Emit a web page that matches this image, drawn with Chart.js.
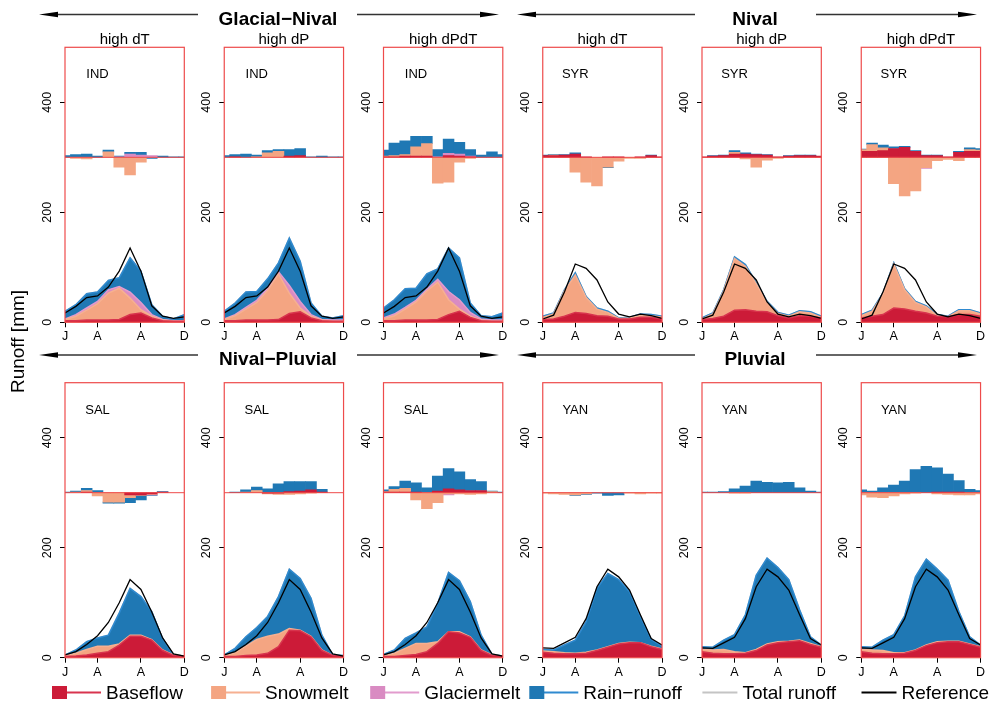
<!DOCTYPE html>
<html lang="en">
<head>
<meta charset="utf-8">
<title>Runoff components by regime</title>
<script src="https://cdn.jsdelivr.net/npm/chart.js@4.4.1/dist/chart.umd.min.js"></script>
<style>
  html, body { margin: 0; padding: 0; background: #fff; }
  #page { position: relative; width: 995px; height: 704px; overflow: hidden; background: #fff; }
  #page canvas { position: absolute; left: 0; top: 0; }
  #overlay { position: absolute; left: 0; top: 0; pointer-events: none; }
  #overlay text { font-family: "Liberation Sans", Arial, Helvetica, sans-serif; fill: #000; }
</style>
</head>
<body>
<div id="page">
  <svg id="overlay" width="995" height="704" viewBox="0 0 995 704"></svg>
</div>
<script>
// ---------- axes ----------
const months = [1, 2, 3, 4, 5, 6, 7, 8, 9, 10, 11, 12];
const monthTicks = [1, 4, 8, 12];
const monthTickLabels = ['J', 'A', 'A', 'D'];
const runoffTicks = [0, 200, 400];
const changeBaseline = 300;
const regionLabelAt = [4, 450];

// ---------- reference runoff per catchment (mm) ----------
const refIND = [17, 29, 45, 48, 64, 93, 135, 93, 30, 11, 7, 10];
const refSYR = [6, 13, 55, 106, 98, 77, 37, 15, 10, 15, 12, 7];
const refSAL = [5, 11, 24, 40, 64, 100, 142, 124, 83, 36, 7, 3];
const refYAN = [18, 17, 27, 37, 71, 129, 161, 147, 123, 78, 35, 23];

const noGlacier = [0, 0, 0, 0, 0, 0, 0, 0, 0, 0, 0, 0];

// ---------- IND ----------
const indDT_base = [3, 3, 4, 4, 4, 5, 14, 17, 8, 3, 2, 2];
const indDT_snow = [2, 8, 18, 30, 49, 57, 30, 6, 3, 1, 0, 0];
const indDT_glac = [1, 3, 4, 4, 6, 3, 11, 13, 3, 1, 1, 1];
const indDT_rain = [14, 18, 26, 17, 17, 16, 62, 57, 18, 6, 3, 11];
const indDT_dBase = [0, 0, 0, 0, 0, 0, 0, 0, 0, 0, 0, 0];
const indDT_dSnow = [0, -2, -3, 0, 10, -18, -32, -9, 0, 0, 0, 0];
const indDT_dGlac = [0, 0, 0, 0, 0, 1, 6, 4, 3, 0, 0, 0];
const indDT_dRain = [3, 5, 6, 2, 3, 1, 3, 5, -2, 2, 1, 1];

const indDP_base = [3, 3, 4, 4, 4, 5, 16, 19, 8, 3, 2, 2];
const indDP_snow = [2, 9, 20, 32, 54, 83, 37, 7, 3, 1, 0, 0];
const indDP_glac = [1, 2, 3, 4, 4, 4, 14, 12, 3, 1, 2, 2];
const indDP_rain = [14, 21, 28, 16, 17, 16, 86, 73, 21, 6, 4, 8];
const indDP_dBase = [0, 1, 0, 0, 0, 0, 2, 3, 0, 0, 0, 0];
const indDP_dSnow = [0, 0, 0, 1, 8, 11, 0, 0, 0, 0, 0, 0];
const indDP_dGlac = [0, 0, 0, 0, 0, 0, 0, 0, 0, 0, 0, 0];
const indDP_dRain = [3, 4, 6, 3, 4, 3, 12, 13, 1, 2, 1, 1];

const indDPDT_base = [3, 3, 4, 4, 4, 5, 14, 20, 9, 3, 2, 2];
const indDPDT_snow = [3, 9, 20, 33, 53, 68, 27, 4, 2, 1, 0, 0];
const indDPDT_glac = [2, 3, 3, 3, 3, 5, 15, 17, 7, 2, 2, 2];
const indDPDT_rain = [18, 26, 34, 22, 28, 19, 79, 76, 17, 6, 6, 13];
const indDPDT_dBase = [1, 1, 2, 2, 2, 0, 3, 2, 1, 0, 0, 0];
const indDPDT_dSnow = [1, 2, 3, 17, 23, -47, -45, -9, -2, 0, 0, 0];
const indDPDT_dGlac = [0, 0, 0, 0, 0, 1, 4, 4, 1, 0, 0, 0];
const indDPDT_dRain = [11, 23, 25, 19, 13, 13, 26, 21, 12, 4, 10, 5];

// ---------- SYR ----------
const syrDT_base = [5, 6, 11, 18, 16, 12, 11, 6, 6, 9, 9, 6];
const syrDT_snow = [4, 9, 46, 68, 29, 12, 7, 1, 2, 4, 3, 3];
const syrDT_rain = [2, 2, 2, 4, 2, 2, 2, 1, 1, 2, 2, 2];
const syrDT_dBase = [3, 3, 4, 6, 1, 0, 1, 1, 0, 1, 3, 1];
const syrDT_dSnow = [0, 1, 0, -27, -45, -52, -18, -7, -2, -2, 0, 0];
const syrDT_dRain = [1, 1, 1, 2, 0, 0, -1, 0, 0, 0, 1, 0];

const syrDP_base = [5, 7, 11, 22, 23, 20, 19, 12, 8, 12, 11, 8];
const syrDP_snow = [1, 8, 46, 94, 79, 50, 17, 4, 3, 7, 6, 1];
const syrDP_rain = [2, 2, 2, 3, 3, 2, 2, 2, 2, 2, 2, 2];
const syrDP_dBase = [1, 2, 3, 6, 6, 5, 4, 1, 2, 3, 3, 2];
const syrDP_dSnow = [0, 0, 0, 3, -3, -18, -5, -2, 0, 0, 0, 0];
const syrDP_dRain = [0, 1, 1, 3, 2, 1, 1, 0, 1, 1, 1, 0];

const syrDPDT_base = [8, 11, 14, 26, 24, 20, 17, 11, 10, 14, 14, 11];
const syrDPDT_snow = [4, 9, 37, 80, 35, 16, 11, 1, 0, 7, 7, 4];
const syrDPDT_rain = [2, 2, 2, 2, 2, 2, 2, 2, 1, 2, 2, 2];
const syrDPDT_dBase = [11, 11, 12, 16, 18, 11, 3, 3, 1, 9, 11, 11];
const syrDPDT_dSnow = [3, 12, 5, -48, -70, -61, -19, -6, -4, -6, 3, 2];
const syrDPDT_dGlac = [0, 0, 0, 0, 0, 0, -1, 0, 0, 0, 0, 0];
const syrDPDT_dRain = [1, 3, 5, 3, 2, 1, 1, 1, 0, 2, 3, 3];

// ---------- SAL ----------
const salDT_base = [2, 3, 5, 8, 11, 23, 39, 39, 32, 13, 4, 3];
const salDT_snow = [1, 5, 10, 13, 10, 2, 2, 2, 1, 1, 1, 0];
const salDT_rain = [2, 6, 14, 15, 20, 56, 85, 70, 51, 21, 0, 0];
const salDT_dBase = [0, 0, 1, 0, 0, 0, -4, -4, -2, 1, 0, 0];
const salDT_dSnow = [0, 1, 3, -6, -17, -17, -5, -1, -1, 0, 0, 0];
const salDT_dGlac = [0, 0, 0, 0, 0, 0, 0, 0, -1, 0, 0, 0];
const salDT_dRain = [1, 2, 4, 4, -2, -2, -9, -8, -1, 1, 0, 0];

const salDP_base = [2, 2, 4, 5, 8, 20, 50, 49, 38, 13, 4, 3];
const salDP_snow = [1, 7, 17, 28, 31, 23, 3, 1, 1, 1, 0, 0];
const salDP_rain = [2, 8, 17, 22, 36, 68, 108, 94, 69, 27, 1, 1];
const salDP_dBase = [0, 0, 0, 0, -1, -1, 2, 3, 5, 1, 0, 0];
const salDP_dSnow = [0, 0, 1, 4, -1, -2, -3, -2, -1, 0, 0, 0];
const salDP_dRain = [0, 1, 4, 6, 7, 16, 18, 17, 15, 5, 0, 0];

const salDPDT_base = [2, 2, 4, 6, 11, 26, 47, 45, 37, 13, 4, 3];
const salDPDT_snow = [1, 6, 13, 20, 15, 3, 0, 2, 1, 1, 1, 0];
const salDPDT_rain = [3, 6, 18, 19, 30, 70, 108, 93, 64, 27, 1, 0];
const salDPDT_dBase = [1, 1, 1, 1, 0, 3, 7, 5, 4, 4, 0, 0];
const salDPDT_dSnow = [1, 5, 7, -13, -29, -18, -2, -2, -3, -2, 2, 0];
const salDPDT_dGlac = [0, 0, 0, 0, 0, 0, -2, 0, 0, 0, 0, 0];
const salDPDT_dRain = [3, 5, 13, 17, 9, 27, 37, 33, 20, 16, 1, 1];

// ---------- YAN ----------
const yanDT_base = [10, 8, 7, 7, 8, 13, 19, 25, 27, 27, 20, 15];
const yanDT_snow = [2, 3, 2, 1, 2, 1, 1, 1, 1, 0, 1, 1];
const yanDT_rain = [3, 3, 14, 24, 55, 112, 133, 116, 92, 48, 12, 5];
const yanDT_dBase = [0, 0, 0, 0, 0, 0, 0, 0, 0, 0, 0, 0];
const yanDT_dSnow = [-1, -2, -3, -4, -2, 0, 0, 0, -1, -2, -1, -1];
const yanDT_dRain = [0, 0, 0, -1, -1, -1, -5, -4, 0, 0, 0, 0];

const yanDP_base = [11, 8, 7, 7, 8, 13, 23, 27, 29, 31, 24, 19];
const yanDP_snow = [4, 6, 8, 4, 1, 2, 2, 2, 1, 1, 2, 1];
const yanDP_rain = [5, 5, 17, 31, 69, 135, 156, 135, 112, 55, 12, 3];
const yanDP_dBase = [0, 0, 0, 0, 0, 0, 0, 0, 0, 0, 0, 0];
const yanDP_dSnow = [0, 0, 0, -1, -1, 0, 0, 0, 0, 0, 0, 0];
const yanDP_dRain = [1, 1, 2, 7, 12, 21, 19, 18, 19, 9, 3, 1];

const yanDPDT_base = [11, 8, 7, 7, 8, 13, 22, 27, 29, 29, 24, 19];
const yanDPDT_snow = [4, 6, 6, 2, 1, 1, 1, 2, 1, 1, 1, 1];
const yanDPDT_rain = [5, 5, 19, 33, 67, 133, 156, 132, 111, 54, 13, 3];
const yanDPDT_dBase = [0, 0, 0, 0, 0, 0, 0, 1, 1, 1, 0, 0];
const yanDPDT_dSnow = [-4, -8, -9, -6, -2, -1, 0, -2, -3, -4, -4, -2];
const yanDPDT_dRain = [5, 3, 9, 14, 21, 42, 48, 44, 33, 21, 6, 4];

// ---------- labels ----------
const scenarioNames = ['high dT', 'high dP', 'high dPdT'];
const regimeNames = [['Glacial−Nival', 'Nival'], ['Nival−Pluvial', 'Pluvial']];
const legendLabels = ['Baseflow', 'Snowmelt', 'Glaciermelt', 'Rain−runoff', 'Total runoff', 'Reference'];
const yTitle = 'Runoff [mm]';

// ---------- styling ----------
const FONT = '"Liberation Sans", Arial, Helvetica, sans-serif';
const FILL = { base: '#CC1B38', snow: '#F4A582', glac: '#D98BC2', rain: '#1F78B4' };
const EDGE = { base: '#D8344E', snow: '#F6B091', glac: '#E29BCD', rain: '#2F8AD0' };
const TOTAL_COLOR = '#C4C4C4';
const REF_COLOR = '#000000';
const BOX_COLOR = '#EE4B4B';
const KEYS = ['base', 'snow', 'glac', 'rain'];

// panel geometry (px)
const panelLeft0 = 65, panelStep = 159.25, panelWidth = 119.3, panelHeight = 275;
const rowTop = [47.3, 382.7];
const yAxisWidth = 30, xAxisHeight = 25;

const panels = [
  { row: 0, col: 0, region: 'IND', ref: refIND, parts: [indDT_base, indDT_snow, indDT_glac, indDT_rain], changes: [indDT_dBase, indDT_dSnow, indDT_dGlac, indDT_dRain] },
  { row: 0, col: 1, region: 'IND', ref: refIND, parts: [indDP_base, indDP_snow, indDP_glac, indDP_rain], changes: [indDP_dBase, indDP_dSnow, indDP_dGlac, indDP_dRain] },
  { row: 0, col: 2, region: 'IND', ref: refIND, parts: [indDPDT_base, indDPDT_snow, indDPDT_glac, indDPDT_rain], changes: [indDPDT_dBase, indDPDT_dSnow, indDPDT_dGlac, indDPDT_dRain] },
  { row: 0, col: 3, region: 'SYR', ref: refSYR, parts: [syrDT_base, syrDT_snow, noGlacier, syrDT_rain], changes: [syrDT_dBase, syrDT_dSnow, noGlacier, syrDT_dRain] },
  { row: 0, col: 4, region: 'SYR', ref: refSYR, parts: [syrDP_base, syrDP_snow, noGlacier, syrDP_rain], changes: [syrDP_dBase, syrDP_dSnow, noGlacier, syrDP_dRain] },
  { row: 0, col: 5, region: 'SYR', ref: refSYR, parts: [syrDPDT_base, syrDPDT_snow, noGlacier, syrDPDT_rain], changes: [syrDPDT_dBase, syrDPDT_dSnow, syrDPDT_dGlac, syrDPDT_dRain] },
  { row: 1, col: 0, region: 'SAL', ref: refSAL, parts: [salDT_base, salDT_snow, noGlacier, salDT_rain], changes: [salDT_dBase, salDT_dSnow, salDT_dGlac, salDT_dRain] },
  { row: 1, col: 1, region: 'SAL', ref: refSAL, parts: [salDP_base, salDP_snow, noGlacier, salDP_rain], changes: [salDP_dBase, salDP_dSnow, noGlacier, salDP_dRain] },
  { row: 1, col: 2, region: 'SAL', ref: refSAL, parts: [salDPDT_base, salDPDT_snow, noGlacier, salDPDT_rain], changes: [salDPDT_dBase, salDPDT_dSnow, salDPDT_dGlac, salDPDT_dRain] },
  { row: 1, col: 3, region: 'YAN', ref: refYAN, parts: [yanDT_base, yanDT_snow, noGlacier, yanDT_rain], changes: [yanDT_dBase, yanDT_dSnow, noGlacier, yanDT_dRain] },
  { row: 1, col: 4, region: 'YAN', ref: refYAN, parts: [yanDP_base, yanDP_snow, noGlacier, yanDP_rain], changes: [yanDP_dBase, yanDP_dSnow, noGlacier, yanDP_dRain] },
  { row: 1, col: 5, region: 'YAN', ref: refYAN, parts: [yanDPDT_base, yanDPDT_snow, noGlacier, yanDPDT_rain], changes: [yanDPDT_dBase, yanDPDT_dSnow, noGlacier, yanDPDT_dRain] }
];

// running totals of the stacked components
function cumulative(parts) {
  const out = [];
  let acc = months.map(() => 0);
  parts.forEach(p => { acc = acc.map((a, i) => a + p[i]); out.push(acc.slice()); });
  return out;
}

// floating bar segments stacked up (gains) or down (losses) from the baseline
function changeSegments(changes) {
  const up = months.map(() => 0), down = months.map(() => 0);
  return changes.map(ch => {
    const seg = [];
    ch.forEach((v, i) => {
      if (!v) return;
      let lo, hi;
      if (v > 0) { lo = changeBaseline + up[i]; hi = lo + v; up[i] += v; }
      else { hi = changeBaseline + down[i]; lo = hi + v; down[i] += v; }
      seg.push({ x: months[i], y: [lo, hi] });
    });
    return seg;
  });
}

const isZero = arr => arr.every(v => v === 0);
const page = document.getElementById('page');
const overlay = document.getElementById('overlay');

Chart.defaults.font.family = FONT;

function buildPanel(p) {
  const canvas = document.createElement('canvas');
  canvas.width = 995; canvas.height = 704;
  page.insertBefore(canvas, overlay);

  const L = panelLeft0 + p.col * panelStep, R = L + panelWidth;
  const T = rowTop[p.row], B = T + panelHeight;

  const tops = cumulative(p.parts);
  const segs = changeSegments(p.changes);
  const datasets = [];

  datasets.push({
    type: 'line', label: 'Reference', order: 0,
    data: months.map((m, i) => ({ x: m, y: p.ref[i] })),
    borderColor: REF_COLOR, borderWidth: 1.3, pointRadius: 0, tension: 0, fill: false
  });
  // total runoff sits under the stacked areas; only its outline shows at the top edge
  datasets.push({
    type: 'line', label: 'Total runoff', order: 8,
    data: months.map((m, i) => ({ x: m, y: tops[3][i] })),
    borderColor: TOTAL_COLOR, borderWidth: 1.5, pointRadius: 0, tension: 0, fill: false
  });
  KEYS.forEach((k, j) => {
    if (isZero(p.parts[j])) return;
    datasets.push({
      type: 'line', label: k, order: 2 + j,
      data: months.map((m, i) => ({ x: m, y: tops[j][i] })),
      borderColor: EDGE[k], backgroundColor: FILL[k], borderWidth: 1.5,
      pointRadius: 0, tension: 0, fill: 'origin'
    });
  });
  KEYS.forEach((k, j) => {
    if (isZero(p.changes[j])) return;
    datasets.push({
      type: 'bar', label: 'd' + k, order: 10 + j,
      data: segs[j], backgroundColor: FILL[k], borderWidth: 0,
      grouped: false, barPercentage: 1, categoryPercentage: 1, clip: 0
    });
  });

  const decor = {
    id: 'panelDecor',
    afterDatasetsDraw(chart) {
      const { ctx, chartArea: a, scales } = chart;
      const y0 = scales.y.getPixelForValue(changeBaseline);
      ctx.save();
      ctx.strokeStyle = BOX_COLOR; ctx.lineWidth = 1;
      ctx.beginPath(); ctx.moveTo(a.left, y0); ctx.lineTo(a.right, y0); ctx.stroke();
      ctx.restore();
    },
    afterDraw(chart) {
      const { ctx, chartArea: a, scales } = chart;
      ctx.save();
      ctx.strokeStyle = BOX_COLOR; ctx.lineWidth = 1.2;
      ctx.strokeRect(a.left, a.top, a.right - a.left, a.bottom - a.top);
      ctx.fillStyle = '#000';
      ctx.font = '13px ' + FONT;
      ctx.textAlign = 'center'; ctx.textBaseline = 'middle';
      ctx.fillText(p.region, scales.x.getPixelForValue(regionLabelAt[0]), scales.y.getPixelForValue(regionLabelAt[1]));
      if (p.row === 0) {
        ctx.font = '15px ' + FONT;
        ctx.textBaseline = 'alphabetic';
        ctx.fillText(scenarioNames[p.col % 3], (a.left + a.right) / 2, a.top - 3.3);
      }
      ctx.restore();
    }
  };

  const tickFont = { family: FONT, size: 12.5 };
  new Chart(canvas, {
    type: 'line',
    data: { datasets },
    options: {
      responsive: false, maintainAspectRatio: false, animation: false, events: [],
      layout: { padding: { left: L - yAxisWidth, right: 995 - R, top: T, bottom: 704 - B - xAxisHeight } },
      plugins: { legend: { display: false }, tooltip: { enabled: false }, title: { display: false } },
      scales: {
        x: {
          type: 'linear', min: 1, max: 12, offset: false,
          border: { display: false },
          grid: { display: true, drawOnChartArea: false, drawTicks: true, tickLength: 5, color: '#000', lineWidth: 1, offset: false },
          ticks: { autoSkip: false, minRotation: 0, maxRotation: 0, padding: 2, color: '#000', font: tickFont,
                   callback: (v, i) => monthTickLabels[i] },
          afterBuildTicks: s => { s.ticks = monthTicks.map(v => ({ value: v })); },
          afterFit: s => { s.height = xAxisHeight; }
        },
        y: {
          type: 'linear', min: 0, max: 500,
          border: { display: false },
          grid: { display: true, drawOnChartArea: false, drawTicks: true, tickLength: 5, color: '#000', lineWidth: 1 },
          ticks: { minRotation: 90, maxRotation: 90, crossAlign: 'center', padding: 2, color: '#000', font: tickFont },
          afterBuildTicks: s => { s.ticks = runoffTicks.map(v => ({ value: v })); },
          afterFit: s => { s.width = yAxisWidth; }
        }
      }
    },
    plugins: [decor]
  });
}

panels.forEach(buildPanel);

// ---------- headers, axis title, legend ----------
const svgNS = 'http://www.w3.org/2000/svg';
function svgEl(tag, attrs, text) {
  const el = document.createElementNS(svgNS, tag);
  Object.keys(attrs).forEach(k => el.setAttribute(k, attrs[k]));
  if (text !== undefined) el.textContent = text;
  overlay.appendChild(el);
  return el;
}

const regimeArrowY = [14.5, 355];
const regimeTextY = [24.5, 364.5];
const regimeCenters = [278, 755];
const arrowSpans = [[198, 39], [357, 499], [695, 517], [816, 977]]; // [tail, tip]

function arrow(x1, x2, y) {
  const dir = Math.sign(x2 - x1), head = 19, half = 2.8;
  svgEl('line', { x1, y1: y, x2: x2 - dir * head * 0.6, y2: y, stroke: '#333', 'stroke-width': 1.3 });
  svgEl('polygon', { points: `${x2},${y} ${x2 - dir * head},${y - half} ${x2 - dir * head},${y + half}`, fill: '#000' });
}

regimeNames.forEach((names, r) => {
  arrowSpans.forEach(s => arrow(s[0], s[1], regimeArrowY[r]));
  names.forEach((n, g) => {
    svgEl('text', { x: regimeCenters[g], y: regimeTextY[r], 'text-anchor': 'middle', 'font-size': 19, 'font-weight': 'bold' }, n);
  });
});

svgEl('text', { transform: 'translate(24,341.5) rotate(-90)', 'text-anchor': 'middle', 'font-size': 19 }, yTitle);

const legendSwatch = [FILL.base, FILL.snow, FILL.glac, FILL.rain, null, null];
const legendLine = [EDGE.base, EDGE.snow, EDGE.glac, EDGE.rain, TOTAL_COLOR, REF_COLOR];
const legendStart = 52, legendStep = 159.1, legendY = 692.5;
legendLabels.forEach((lab, i) => {
  const x0 = legendStart + i * legendStep;
  svgEl('line', { x1: x0 + 14, y1: legendY, x2: x0 + 49, y2: legendY, stroke: legendLine[i], 'stroke-width': 2 });
  if (legendSwatch[i]) svgEl('rect', { x: x0, y: legendY - 6.5, width: 15, height: 13, fill: legendSwatch[i] });
  svgEl('text', { x: x0 + 54, y: 699, 'font-size': 19 }, lab);
});
</script>
</body>
</html>
